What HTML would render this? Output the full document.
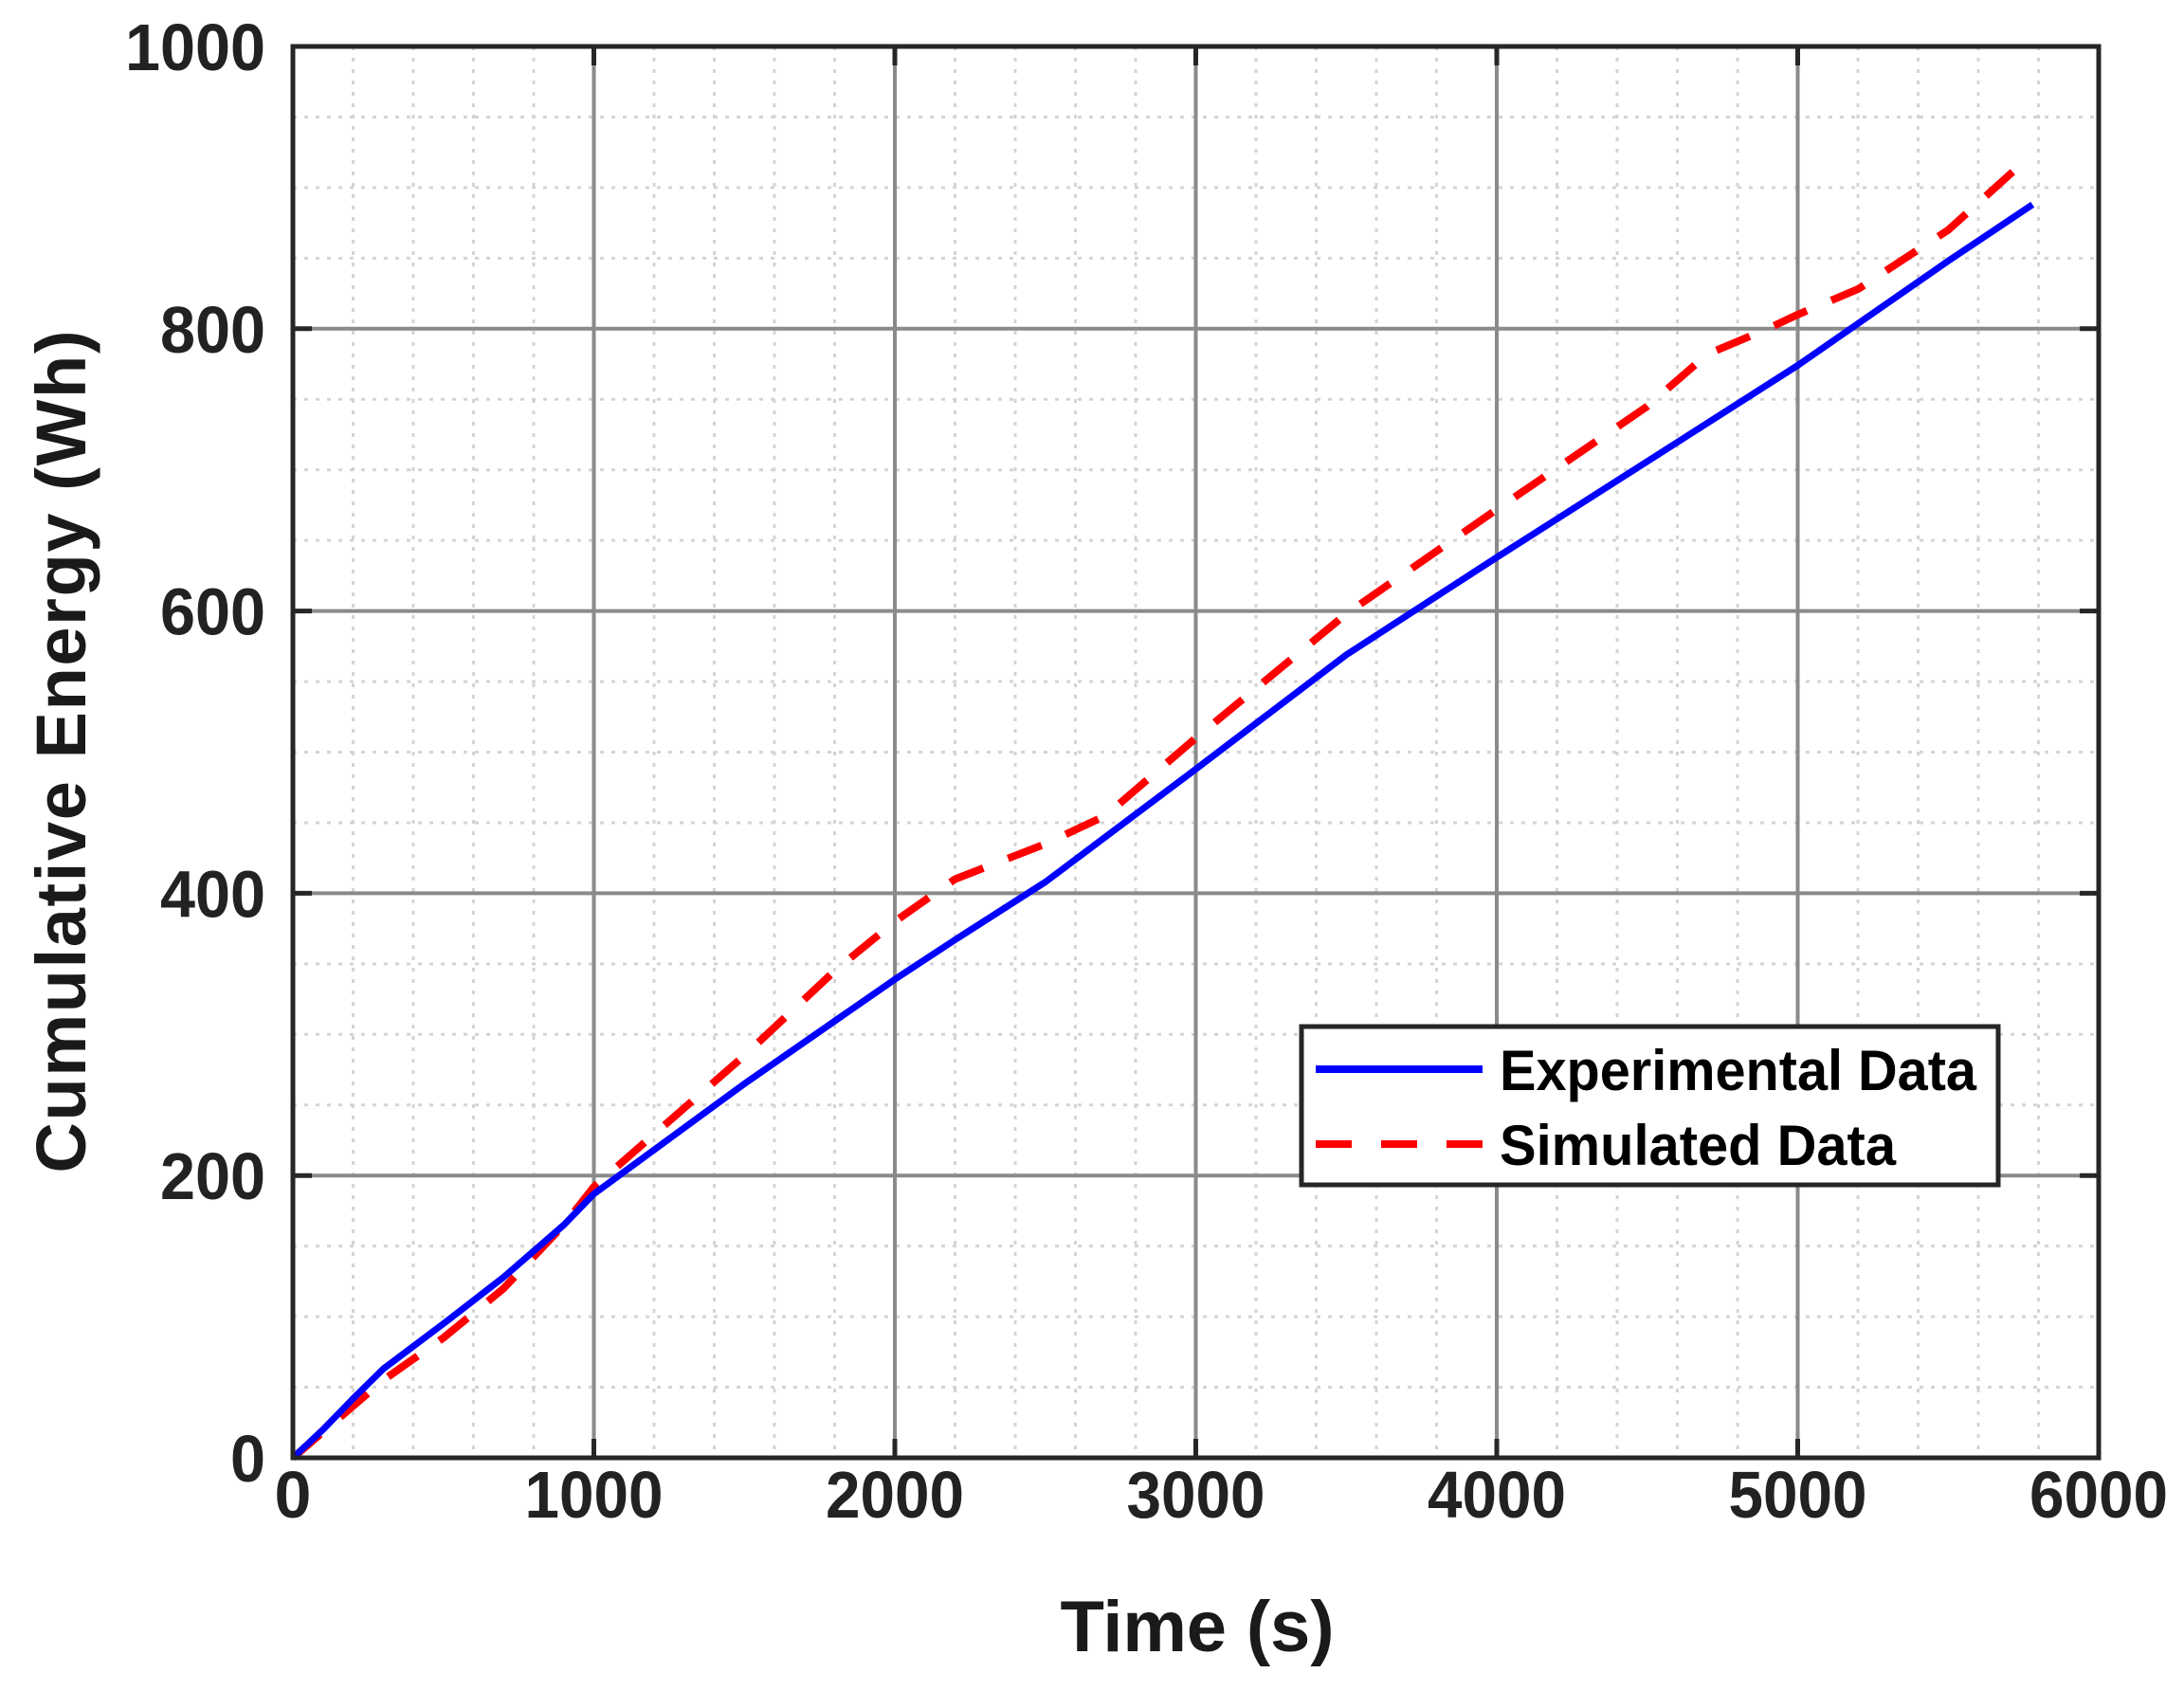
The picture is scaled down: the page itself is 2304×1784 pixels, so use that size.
<!DOCTYPE html>
<html><head><meta charset="utf-8"><style>
html,body{margin:0;padding:0;background:#fff;}
svg{display:block;font-family:"Liberation Sans",Arial,sans-serif;font-weight:bold;}
</style></head><body>
<svg id="chart" width="2304" height="1784" viewBox="0 0 2304 1784" xmlns="http://www.w3.org/2000/svg">
<g id="grid"></g>
<g id="series"></g>
<rect x="309" y="49" width="1905" height="1489" fill="none" stroke="#262626" stroke-width="5"/>
<g id="ticks"></g>
<text x="1263" y="1742" font-size="76" text-anchor="middle" fill="#1a1a1a" textLength="289">Time (s)</text>
<text transform="translate(90,793) rotate(-90)" x="0" y="0" font-size="74" text-anchor="middle" fill="#1a1a1a" textLength="889">Cumulative Energy (Wh)</text>
<g>
<rect x="1373" y="1083" width="735" height="167" fill="#fff" stroke="#262626" stroke-width="5"/>
<line x1="1388" y1="1128" x2="1564" y2="1128" stroke="#0000ff" stroke-width="8"/>
<text x="1582" y="1150" font-size="60" fill="#000" textLength="503" lengthAdjust="spacingAndGlyphs">Experimental Data</text>
<line x1="1388" y1="1207" x2="1564" y2="1207" stroke="#ff0000" stroke-width="8" stroke-dasharray="38 31"/>
<text x="1582" y="1229" font-size="60" fill="#000" textLength="418" lengthAdjust="spacingAndGlyphs">Simulated Data</text>
</g>
</svg>
<script>
const xTicks = [0,1000,2000,3000,4000,5000,6000];
const yTicks = [0,200,400,600,800,1000];
const expT = [0,100,200,300,500,700,900,1000,1500,2000,2200,2500,3000,3500,4000,4500,5000,5500,5780];
const expE = [0,20,42,63,95,128,165,187,265,339,367,408,488,569,638,706,774,848,888];
const simT = [0,300,500,700,900,1000,1500,1800,2000,2200,2500,2700,3000,3500,4000,4500,4700,4900,5000,5200,5500,5750];
const simE = [0,55,85,120,165,192,285,345,380,410,435,455,510,598,672,745,782,800,810,828,870,918];

const X0=309,X1=2214,Y0=1538,Y1=49;
const sx = t => X0 + (t-0)/6000*(X1-X0);
const sy = e => Y0 - (e-0)/1000*(Y0-Y1);
const NS="http://www.w3.org/2000/svg";
function mk(tag, attrs, parent){const el=document.createElementNS(NS,tag);for(const k in attrs)el.setAttribute(k,attrs[k]);parent.appendChild(el);return el;}
const grid=document.getElementById('grid'), ticks=document.getElementById('ticks'), series=document.getElementById('series');
for(let t=200;t<6000;t+=200){ if(t%1000===0) continue;
  const l=mk('line',{x1:sx(t),x2:sx(t),y1:Y1,y2:Y0,stroke:'#d4d4d4','stroke-width':3,'stroke-dasharray':'4 8'},grid);
  
  
}
for(let e=50;e<1000;e+=50){ if(e%200===0) continue;
  const l=mk('line',{x1:X0,x2:X1,y1:sy(e),y2:sy(e),stroke:'#d4d4d4','stroke-width':3,'stroke-dasharray':'4 8'},grid);
  
  
}
xTicks.forEach(t=>{
  if(t>0&&t<6000){const l=mk('line',{x1:sx(t),x2:sx(t),y1:Y1,y2:Y0,stroke:'#8a8a8a','stroke-width':4},grid);
  
  
  const k=mk('line',{x1:sx(t),x2:sx(t),y1:Y0,y2:Y0-20,stroke:'#262626','stroke-width':5},ticks);
  
  
  const k2=mk('line',{x1:sx(t),x2:sx(t),y1:Y1,y2:Y1+20,stroke:'#262626','stroke-width':5},ticks);
  
  }
  const tx=mk('text',{x:sx(t),y:1601,'font-size':70,'text-anchor':'middle',fill:'#222'},ticks);
  if(t>0){tx.setAttribute('textLength',146);tx.setAttribute('lengthAdjust','spacingAndGlyphs');}
  tx.textContent=String(t);
  
  
});
yTicks.forEach(e=>{
  if(e>0&&e<1000){const l=mk('line',{x1:X0,x2:X1,y1:sy(e),y2:sy(e),stroke:'#8a8a8a','stroke-width':4},grid);
  
  
  const k=mk('line',{x1:X0,x2:X0+20,y1:sy(e),y2:sy(e),stroke:'#262626','stroke-width':5},ticks);
  
  
  const k2=mk('line',{x1:X1,x2:X1-20,y1:sy(e),y2:sy(e),stroke:'#262626','stroke-width':5},ticks);
  
  }
  const tx=mk('text',{x:280,y:sy(e)+25,'font-size':70,'text-anchor':'end',fill:'#222'},ticks);
  const s=String(e);
  tx.setAttribute('textLength',s.length*37);
  tx.setAttribute('lengthAdjust','spacingAndGlyphs');
  tx.textContent=s;
  
  
});
function pts(T,E){return T.map((t,i)=>sx(t).toFixed(1)+','+sy(E[i]).toFixed(1)).join(' ');}
const sim=mk('polyline',{points:pts(simT,simE),fill:'none',stroke:'#ff0000','stroke-width':8,'stroke-dasharray':'38 28','stroke-linejoin':'round'},series);


const exp=mk('polyline',{points:pts(expT,expE),fill:'none',stroke:'#0000ff','stroke-width':7,'stroke-linejoin':'round'},series);


</script>
</body></html>
